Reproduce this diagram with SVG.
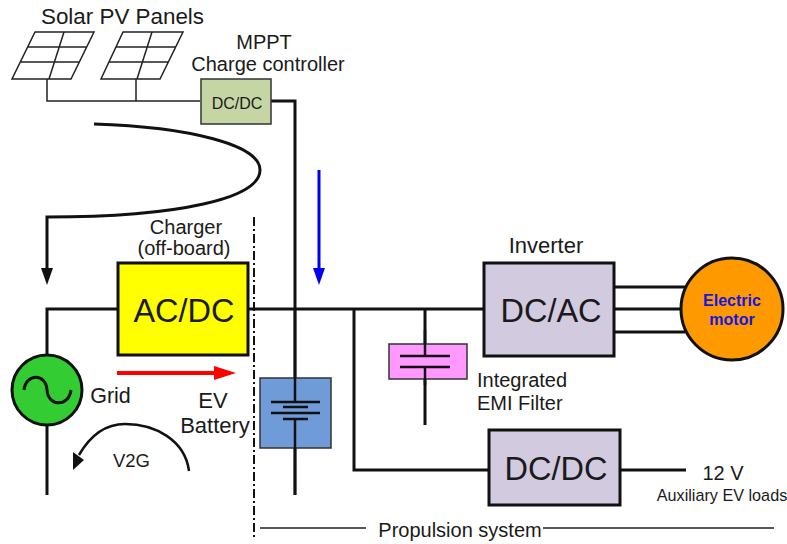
<svg xmlns="http://www.w3.org/2000/svg" width="787" height="544" viewBox="0 0 787 544">
<style>
text{font-family:"Liberation Sans",Arial,sans-serif;fill:#1a1a1a;text-anchor:middle}
.w{fill:none;stroke:#111;stroke-width:3}
.t{fill:none;stroke:#222;stroke-width:1.5}
.p{fill:none;stroke:#222;stroke-width:1.5}
.b{stroke:#111;stroke-width:3}
</style>
<rect width="787" height="544" fill="#fff"/>
<g id="connectors">
<path class="t" d="M47 79V101H200M136 79V101"/>
<path class="w" d="M271 101H295V495"/>
<path class="w" d="M94 124C190 127 260 145 260 170C260 198 180 217 47 217V268"/>
<path d="M41 268H53L47 285Z" fill="#111"/>
<path class="w" d="M118 309H47V355M47 425V495"/>
<path class="w" d="M248 309H484M354 309V470H489M425 309V356M425 367V425M620 470H686"/>
<path class="w" d="M614 287H685M614 309H685M614 332H685"/>
<path d="M319 170V268" fill="none" stroke="#0000f0" stroke-width="3"/>
<path d="M313 268H325L319 285Z" fill="#0000f0"/>
<path d="M117 373H215" fill="none" stroke="#f00" stroke-width="4"/>
<path d="M214 366L236 373L214 380Z" fill="#f00"/>
<path d="M254 217V540" fill="none" stroke="#111" stroke-width="2" stroke-dasharray="9 3 2 3"/>
<path d="M189 471C185 440 155 424 125 424C105 424 90 436 79 455" fill="none" stroke="#111" stroke-width="2.500"/>
<path d="M84 460L73 470L73 452Z" fill="#111"/>
<path d="M260 528H366M543 528H774" fill="none" stroke="#222" stroke-width="1.500"/>
</g>
<g id="panel1"><path class="p" d="M35 32H94L71 79H12ZM28 47H87M20 62H79M64 32L49 79"/></g>
<g id="panel2"><path class="p" d="M123 32H183L160 79H101ZM116 47H176M109 62H168M152 32L137 79"/></g>
<text x="122.500" y="24" font-size="22.400">Solar PV Panels</text>
<g id="mppt">
<rect x="201" y="79" width="70" height="45" fill="#c5d6a4" stroke="#333" stroke-width="1.500"/>
<text x="237" y="109" font-size="16">DC/DC</text>
<text x="264" y="49" font-size="20">MPPT</text>
<text x="268" y="71" font-size="20">Charge controller</text>
</g>
<g id="charger">
<rect class="b" x="118" y="263" width="130" height="92" fill="#ff0"/>
<text x="184" y="322" font-size="32.500">AC/DC</text>
<text x="186" y="234" font-size="20">Charger</text>
<text x="184" y="255" font-size="20">(off-board)</text>
</g>
<g id="grid">
<circle class="b" cx="47" cy="390" r="35" fill="#33cc33"/>
<path d="M24 390C26 373 46 373 47 390C48 407 69 407 71 390" fill="none" stroke="#111" stroke-width="3"/>
<text x="110.500" y="403" font-size="21.500">Grid</text>
</g>
<g id="battery">
<rect x="260" y="378" width="71" height="70" fill="#6f9bd8" stroke="#333" stroke-width="1.500"/>
<path d="M295 309V402M295 419V495M271 402H320M283 407H308M271 413H320M283 419H308" fill="none" stroke="#111" stroke-width="2.500"/>
<text x="213" y="408" font-size="22">EV</text>
<text x="215" y="433" font-size="22">Battery</text>
</g>
<text x="131.500" y="467" font-size="18.500">V2G</text>
<g id="inverter">
<rect class="b" x="484" y="263" width="130" height="93" fill="#d2cbe0"/>
<text x="551" y="322" font-size="32.500">DC/AC</text>
<text x="546" y="253" font-size="22">Inverter</text>
</g>
<g id="motor">
<circle class="b" cx="732" cy="309" r="51" fill="#ff9900"/>
<text x="732" y="306" font-size="16" font-weight="700" style="fill:#1515e0">Electric</text>
<text x="732" y="325" font-size="16" font-weight="700" style="fill:#1515e0">motor</text>
</g>
<g id="emi">
<rect x="389" y="344" width="78" height="35" fill="#ff99ff" stroke="#333" stroke-width="1.500"/>
<path d="M425 330V356M425 367V385M400 356H450M400 367H450" fill="none" stroke="#111" stroke-width="2.500"/>
<text x="477" y="387" font-size="20" style="text-anchor:start">Integrated</text>
<text x="477" y="410" font-size="20" style="text-anchor:start">EMI Filter</text>
</g>
<g id="dcdc">
<rect class="b" x="489" y="430" width="131" height="75" fill="#d2cbe0"/>
<text x="556" y="480" font-size="32.500">DC/DC</text>
<text x="723" y="480" font-size="20">12 V</text>
<text x="722" y="501" font-size="16.200">Auxiliary EV loads</text>
</g>
<text x="460" y="537" font-size="20">Propulsion system</text>
</svg>
